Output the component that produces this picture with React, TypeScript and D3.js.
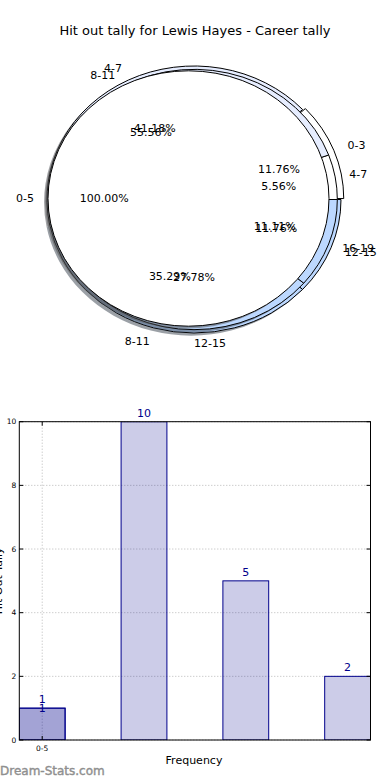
import React from 'react';
import * as d3 from 'd3';

const title = 'Hit out tally for Lewis Hayes - Career tally';

// three pies stacked on each other, bottom one first
const outerRanges = ['0-3', '4-7', '8-11', '12-15'];
const outerTally = [2, 7, 6, 2];
const middleRanges = ['4-7', '8-11', '12-15', '16-19'];
const middleTally = [1, 10, 5, 2];
const topRanges = ['0-5'];
const topTally = [1];

// bar chart
const barTickLabels = ['0-5'];
const firstSeries = [1];
const secondSeries = [1, 10, 5, 2];
const yTicks = [0, 2, 4, 6, 8, 10];

const font = 'DejaVu Sans, sans-serif';
const navy = '#00008b';

type PieSpec = {
  name: string;
  labels: string[];
  values: number[];
  colors: string[];
  cx: number;
  cy: number;
  rx: number;
  ry: number;
  explode: number[];
};

const pieLayers: PieSpec[] = [
  {
    name: 'outer',
    labels: outerRanges,
    values: outerTally,
    colors: ['#ffffff', '#e6edff', '#bcd8ff', '#bcd8ff'],
    cx: 194,
    cy: 199.5,
    rx: 147,
    ry: 133.5,
    explode: [0.02, 0, 0, 0]
  },
  {
    name: 'middle',
    labels: middleRanges,
    values: middleTally,
    colors: ['#ffffff', '#e6edff', '#bcd8ff', '#bcd8ff'],
    cx: 194,
    cy: 199.5,
    rx: 147 * 0.975,
    ry: 133.5 * 0.975,
    explode: [0, 0, 0, 0]
  },
  {
    name: 'top',
    labels: topRanges,
    values: topTally,
    colors: ['#ffffff'],
    cx: 188.5,
    cy: 198.5,
    rx: 140.5,
    ry: 127.7,
    explode: [0]
  }
];

const pctFormat = d3.format('.2f');

const PieLayer = ({ spec }: { spec: PieSpec }) => {
  const slices = d3.pie<number>().sort(null).value(d => d)(spec.values);
  const arc = d3.arc<any>();
  const parts = slices.map((s, i) => {
    // matplotlib style: counter clockwise from east
    const t1 = s.startAngle;
    const t2 = s.endAngle;
    const mid = (t1 + t2) / 2;
    const e = spec.explode[i] || 0;
    const ox = spec.cx + e * spec.rx * Math.cos(mid);
    const oy = spec.cy - e * spec.ry * Math.sin(mid);
    const d = arc({
      innerRadius: 0,
      outerRadius: spec.rx,
      startAngle: Math.PI / 2 - t2,
      endAngle: Math.PI / 2 - t1
    }) as string;
    const c = d3.rgb(spec.colors[i]);
    const shadow = d3.rgb(c.r * 0.3, c.g * 0.3, c.b * 0.3).formatHex();
    return { d, ox, oy, mid, fill: spec.colors[i], shadow };
  });
  const sy = spec.ry / spec.rx;
  return (
    <g className={`pie-${spec.name}`}>
      {parts.map((p, i) => (
        <path
          key={`sh${i}`}
          d={p.d}
          transform={`translate(${p.ox - 0.02 * spec.rx},${p.oy + 0.02 * spec.ry}) scale(1,${sy})`}
          fill={p.shadow}
          fillOpacity={0.5}
          stroke="none"
        />
      ))}
      {parts.map((p, i) => (
        <path
          key={`w${i}`}
          d={p.d}
          transform={`translate(${p.ox},${p.oy}) scale(1,${sy})`}
          fill={p.fill}
          stroke="#000"
          strokeWidth={1}
          vectorEffect="non-scaling-stroke"
        />
      ))}
    </g>
  );
};

const PieTexts = ({ spec }: { spec: PieSpec }) => {
  const slices = d3.pie<number>().sort(null).value(d => d)(spec.values);
  const total = d3.sum(spec.values);
  return (
    <g fontFamily={font} fontSize={11} fill="#000">
      {slices.map((s, i) => {
        const mid = (s.startAngle + s.endAngle) / 2;
        const e = spec.explode[i] || 0;
        const ox = spec.cx + e * spec.rx * Math.cos(mid);
        const oy = spec.cy - e * spec.ry * Math.sin(mid);
        const lx = ox + 1.1 * spec.rx * Math.cos(mid);
        const ly = oy - 1.1 * spec.ry * Math.sin(mid);
        const px = ox + 0.6 * spec.rx * Math.cos(mid);
        const py = oy - 0.6 * spec.ry * Math.sin(mid);
        // straight down counts as the right side, like the original
        const onRight = Math.cos(mid) > -1e-6;
        return (
          <g key={i}>
            <text x={lx} y={ly} dy="0.35em" textAnchor={onRight ? 'start' : 'end'}>
              {spec.labels[i]}
            </text>
            <text x={px} y={py} dy="0.35em" textAnchor="middle">
              {pctFormat((spec.values[i] / total) * 100)}%
            </text>
          </g>
        );
      })}
    </g>
  );
};

const BarChart = () => {
  const left = 19.3;
  const right = 370.5;
  const top = 421.7;
  const bottom = 740;
  const barW = 0.45;

  const x = d3.scaleLinear().domain([-barW / 2, 3 + barW / 2]).range([left, right]);
  const y = d3.scaleLinear().domain([0, 10]).range([bottom, top]);

  const bar = (v: number, i: number, key: string) => (
    <rect
      key={key}
      x={x(i - barW / 2)}
      y={y(v)}
      width={x(barW) - x(0)}
      height={y(0) - y(v)}
      fill={navy}
      fillOpacity={0.2}
      stroke={navy}
      strokeWidth={1}
    />
  );

  const valueLabel = (v: number, i: number, key: string, dy: number) => (
    <text
      key={key}
      x={x(i)}
      y={y(v) + dy}
      textAnchor="middle"
      fontFamily={font}
      fontSize={11}
      fill={navy}
    >
      {v}
    </text>
  );

  return (
    <g>
      <defs>
        <clipPath id="plot-area">
          <rect x={left} y={top} width={right - left} height={bottom - top} />
        </clipPath>
      </defs>
      {/* grid */}
      {yTicks.map(t => (
        <line
          key={`gy${t}`}
          x1={left}
          x2={right}
          y1={y(t)}
          y2={y(t)}
          stroke="#b8b8b8"
          strokeDasharray="1,2"
        />
      ))}
      {barTickLabels.map((lab, i) => (
        <line
          key={`gx${lab}`}
          x1={x(i)}
          x2={x(i)}
          y1={top}
          y2={bottom}
          stroke="#b8b8b8"
          strokeDasharray="1,2"
        />
      ))}
      <g clipPath="url(#plot-area)">
        {firstSeries.map((v, i) => bar(v, i, `a${i}`))}
        {secondSeries.map((v, i) => bar(v, i, `b${i}`))}
      </g>
      {firstSeries.map((v, i) => valueLabel(v, i, `la${i}`, 3.5))}
      {secondSeries.map((v, i) => valueLabel(v, i, `lb${i}`, -5))}
      <rect x={left} y={top} width={right - left} height={bottom - top} fill="none" stroke="#000" strokeWidth={1} />
      {/* ticks */}
      {yTicks.map(t => (
        <g key={`ty${t}`}>
          <line x1={left} x2={left + 4} y1={y(t)} y2={y(t)} stroke="#000" />
          <line x1={right - 4} x2={right} y1={y(t)} y2={y(t)} stroke="#000" />
          <text
            x={left - 3}
            y={y(t)}
            dy="0.35em"
            textAnchor="end"
            fontFamily={font}
            fontSize={7.5}
            fill="#000"
          >
            {t}
          </text>
        </g>
      ))}
      {barTickLabels.map((lab, i) => (
        <g key={`tx${lab}`}>
          <line x1={x(i)} x2={x(i)} y1={bottom} y2={bottom - 4} stroke="#000" />
          <line x1={x(i)} x2={x(i)} y1={top} y2={top + 4} stroke="#000" />
          <text x={x(i)} y={bottom + 11} textAnchor="middle" fontFamily={font} fontSize={7.5} fill="#000">
            {lab}
          </text>
        </g>
      ))}
      <text x={194} y={764} textAnchor="middle" fontFamily={font} fontSize={11} fill="#000">
        Frequency
      </text>
      <text
        transform={`translate(2,${(top + bottom) / 2}) rotate(-90)`}
        textAnchor="middle"
        fontFamily={font}
        fontSize={11}
        fill="#000"
      >
        Hit Out Tally
      </text>
    </g>
  );
};

export default function App() {
  return (
    <svg
      width={390}
      height={780}
      style={{ position: 'absolute', left: 0, top: 0, background: '#fff' }}
    >
      <rect width={390} height={780} fill="#fff" />
      <text x={195} y={34.5} textAnchor="middle" fontFamily={font} fontSize={13} fill="#000">
        {title}
      </text>
      {pieLayers.map(p => (
        <PieLayer key={p.name} spec={p} />
      ))}
      {pieLayers.map(p => (
        <PieTexts key={p.name} spec={p} />
      ))}
      <BarChart />
      <text
        x={0}
        y={775}
        fontFamily={font}
        fontSize={12}
        fill="#8f8f8f"
        stroke="#8f8f8f"
        strokeWidth={0.4}
      >
        Dream-Stats.com
      </text>
    </svg>
  );
}
